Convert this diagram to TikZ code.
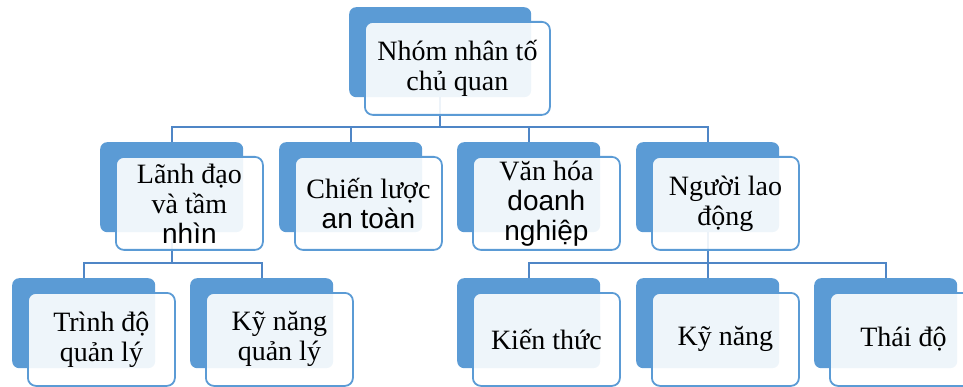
\documentclass[tikz,border=0pt]{standalone}
\usepackage{fontspec}
\setmainfont{Liberation Serif}
\newfontfamily\altsf{Liberation Sans}
\usetikzlibrary{positioning,backgrounds}
\definecolor{boxblue}{HTML}{5B9BD5}
\definecolor{linkblue}{HTML}{4F86C6}
\tikzset{
  backbox/.style={fill=boxblue, rounded corners=7pt, inner sep=0pt,
    minimum width=143pt, minimum height=90pt, anchor=north west},
  frontbox/.style={draw=boxblue, line width=1.8pt, fill=white, fill opacity=0.9,
    text opacity=1, rounded corners=8pt, inner sep=0pt, align=center,
    minimum width=147pt, minimum height=93pt,
    font=\fontsize{28}{30}\selectfont},
  link/.style={draw=linkblue, line width=2pt}
}

\begin{document}
\begin{tikzpicture}[x=1pt,y=-1pt]
  \useasboundingbox (0,0) rectangle (963,387);
  % top box
  \node[backbox, minimum width=182pt] (topb) at (349,7) {};
  \node[frontbox, minimum width=185pt, below right=14pt and 15pt of topb.north west] (top)
    {Nhóm nhân tố\\chủ quan};
  % second row
  \foreach \n/\x in {lead/100,strat/279,cult/457,staff/636} {%
    \node[backbox] (\n b) at (\x,142) {};
  }
  \node[frontbox, below right=14pt and 15pt of leadb.north west] (lead)
    {Lãnh đạo\\và tầm\\{\altsf nhìn}};
  \node[frontbox, below right=14pt and 15pt of stratb.north west] (strat)
    {Chiến lược\\{\altsf an toàn}};
  \node[frontbox, below right=14pt and 15pt of cultb.north west] (cult)
    {Văn hóa\\{\altsf doanh}\\{\altsf nghiệp}};
  \node[frontbox, below right=14pt and 15pt of staffb.north west] (staff)
    {Người lao\\động};
  % third row
  \foreach \n/\x in {level/12,skill/190,know/457,craft/636,mind/814} {%
    \node[backbox] (\n b) at (\x,278) {};
  }
  \node[frontbox, below right=14pt and 15pt of levelb.north west] (level)
    {Trình độ\\quản lý};
  \node[frontbox, below right=14pt and 15pt of skillb.north west] (skill)
    {Kỹ năng\\quản lý};
  \node[frontbox, below right=14pt and 15pt of knowb.north west] (know)
    {Kiến thức};
  \node[frontbox, below right=14pt and 15pt of craftb.north west] (craft)
    {Kỹ năng};
  \node[frontbox, below right=14pt and 15pt of mindb.north west] (mind)
    {Thái độ};
  % connectors
  \begin{scope}[on background layer]
    \coordinate (bus1) at (0,127);
    \coordinate (bus2) at (0,263);
    \foreach \n in {lead,strat,cult,staff}
      \draw[link] (topb.center) |- (bus1 -| \n b.center) -- (\n b.center);
    \foreach \n in {level,skill}
      \draw[link] (leadb.center) |- (bus2 -| \n b.center) -- (\n b.center);
    \foreach \n in {know,craft,mind}
      \draw[link] (staffb.center) |- (bus2 -| \n b.center) -- (\n b.center);
  \end{scope}
\end{tikzpicture}
\end{document}
